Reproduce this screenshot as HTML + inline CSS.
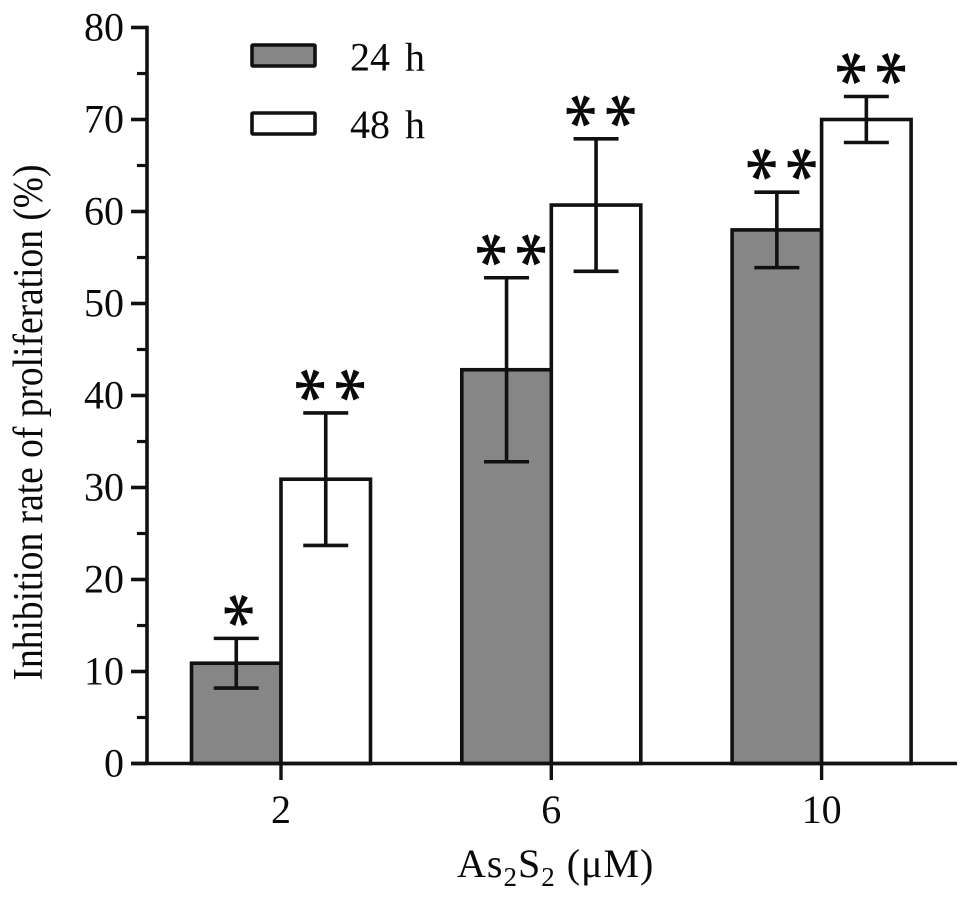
<!DOCTYPE html>
<html>
<head>
<meta charset="utf-8">
<style>
html,body{margin:0;padding:0;background:#fff;}
svg{display:block;}
text{font-family:"Liberation Serif",serif;fill:#0a0a0a;}
</style>
</head>
<body>
<svg id="chart" width="969" height="899" viewBox="0 0 969 899" xmlns="http://www.w3.org/2000/svg">
<rect x="0" y="0" width="969" height="899" fill="#fff"/>
<g id="bars"></g>
<g id="errors"></g>
<g id="stars"></g>
<g id="axes"></g>
<g>
<rect x="252" y="45" width="63" height="21" rx="1" fill="#868686" stroke="#111" stroke-width="3.6"/>
<text x="350" y="70.5" font-size="40" word-spacing="5">24 h</text>
<rect x="252" y="113" width="63" height="21" rx="1" fill="#fff" stroke="#111" stroke-width="3.6"/>
<text x="350" y="138" font-size="40" word-spacing="5">48 h</text>
</g>
<text transform="translate(42,422.5) rotate(-90)" text-anchor="middle" font-size="42" textLength="516" lengthAdjust="spacingAndGlyphs">Inhibition rate of proliferation (%)</text>
<text x="457" y="877" font-size="40" letter-spacing="1">As<tspan font-size="27" dy="9">2</tspan><tspan dy="-9">S</tspan><tspan font-size="27" dy="9">2</tspan><tspan dy="-9"> (μM)</tspan></text>
</svg>
<script>
var categories = ['2', '6', '10'];
var values24h = [10.9, 42.8, 58.0];
var values48h = [30.9, 60.7, 70.0];
var errors24h = [2.7, 10.0, 4.1];
var errors48h = [7.2, 7.2, 2.5];
var stars24h = ['*', '**', '**'];
var stars48h = ['**', '**', '**'];
var yTickLabels = [0, 10, 20, 30, 40, 50, 60, 70, 80];
var yMinorTicks = [5, 15, 25, 35, 45, 55, 65, 75];

var NS = 'http://www.w3.org/2000/svg';
function yScale(v) { return 763.5 - v * 9.2; }
function xScale(i) { return 281 + i * 270.3; }
var BAR_W = 89.5;
var INK = '#111';
var STAR_SIZE = 74;

function make(tag, parent, attrs) {
  var el = document.createElementNS(NS, tag);
  for (var k in attrs) el.setAttribute(k, attrs[k]);
  parent.appendChild(el);
  return el;
}
function segment(parent, x1, y1, x2, y2, w) {
  return make('line', parent, {x1: x1, y1: y1, x2: x2, y2: y2, stroke: INK, 'stroke-width': w});
}

var barsG = document.getElementById('bars');
var errorsG = document.getElementById('errors');
var starsG = document.getElementById('stars');
var axesG = document.getElementById('axes');

function drawSeries(vals, errs, marks, side, fill, label) {
  vals.forEach(function (v, i) {
    var x0 = side < 0 ? xScale(i) - BAR_W : xScale(i);
    var cx = x0 + BAR_W / 2;
    var bar = make('rect', barsG, {x: x0, y: yScale(v), width: BAR_W, height: yScale(0) - yScale(v), fill: fill, stroke: INK, 'stroke-width': 3.6});
    
    

    var top = yScale(v + errs[i]);
    var bot = yScale(v - errs[i]);
    var eg = make('g', errorsG, {});
    
    
    segment(eg, cx, top, cx, bot, 3.6);
    segment(eg, cx - 22.5, top, cx + 22.5, top, 3.6);
    segment(eg, cx - 22.5, bot, cx + 22.5, bot, 3.6);

    var count = marks[i].length;
    for (var s = 0; s < count; s++) {
      var sx = count === 1 ? cx : cx + (s === 0 ? -18 : 22);
      var sy = top - 28;
      var st = make('text', starsG, {x: 0, y: STAR_SIZE * 0.44, transform: 'translate(' + sx + ',' + sy + ') rotate(90)', 'text-anchor': 'middle', 'font-size': STAR_SIZE, stroke: '#0a0a0a', 'stroke-width': 0.7});
      
      
      st.textContent = '*';
    }
  });
}
drawSeries(values24h, errors24h, stars24h, -1, '#868686', '24h');
drawSeries(values48h, errors48h, stars48h, 1, '#ffffff', '48h');

var yLine = segment(axesG, 147, yScale(80) - 1.8, 147, yScale(0), 3.6);


var xLine = segment(axesG, 131, yScale(0), 957, yScale(0), 3.6);



yTickLabels.forEach(function (v) {
  var t = segment(axesG, 131, yScale(v), 147, yScale(v), 3.6);
  
  
  var lbl = make('text', axesG, {x: 124, y: yScale(v) + 13, 'text-anchor': 'end', 'font-size': 40});
  
  
  lbl.textContent = v;
});
yMinorTicks.forEach(function (v) {
  var t = segment(axesG, 137, yScale(v), 147, yScale(v), 3.2);
  
  
});
categories.forEach(function (c, i) {
  var t = segment(axesG, xScale(i), yScale(0), xScale(i), 780, 3.4);
  
  
  var lbl = make('text', axesG, {x: xScale(i), y: 823, 'text-anchor': 'middle', 'font-size': 40});
  
  
  lbl.textContent = c;
});
</script>
</body>
</html>
